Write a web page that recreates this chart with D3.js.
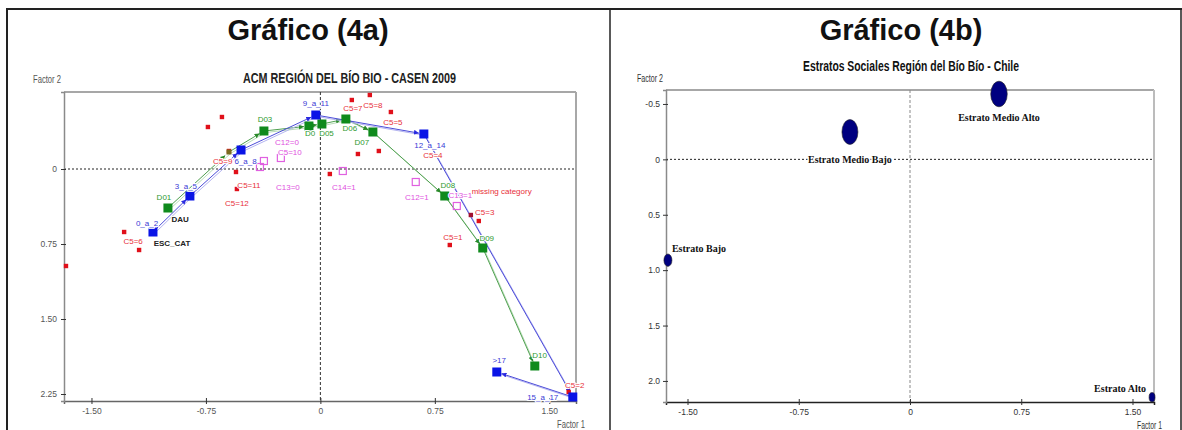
<!DOCTYPE html>
<html><head><meta charset="utf-8">
<script src="https://cdn.jsdelivr.net/npm/d3@7"></script>
<style>
body{margin:0;background:#fff}
svg{display:block}
.narrow{font-family:"Liberation Sans Narrow","Arial Narrow","Liberation Sans",sans-serif}
.halo{paint-order:stroke;stroke:#fff;stroke-width:2px;stroke-linejoin:round}
</style>
</head><body>
<svg id="c" width="1182" height="430"></svg>
<script>
// ---------- DATA ----------
const panelTitles = ["Gráfico (4a)", "Gráfico (4b)"];
const chartTitleA = "ACM REGIÓN DEL BÍO BIO - CASEN 2009";
const chartTitleB = "Estratos Sociales Región del Bío Bío - Chile";
const axisNames = ["Factor 1", "Factor 2"];

const xTicks = [-1.5, -0.75, 0, 0.75, 1.5];
const xTickLabels = ["-1.50", "-0.75", "0", "0.75", "1.50"];
const yTicksA = [0, 0.75, 1.5, 2.25];
const yTickLabelsA = ["0", "0.75", "1.50", "2.25"];
const yTicksB = [-0.5, 0, 0.5, 1, 1.5, 2];
const yTickLabelsB = ["-0.5", "0", "0.5", "1.0", "1.5", "2.0"];

// Escolaridad (ESC_CAT) – blue
const escCategories = ["0_a_2", "3_a_5", "6_a_8", "9_a_11", "12_a_14", "15_a_17", ">17"];
const escF1 = [-1.097, -0.855, -0.52, -0.03, 0.678, 1.654, 1.156];
const escF2 = [0.63, 0.27, -0.19, -0.54, -0.35, 2.28, 2.03];

// Deciles (DAU) – green
const decileCategories = ["D01", "D02", "D03", "D04", "D05", "D06", "D07", "D08", "D09", "D10"];
const decileF1 = [-0.999, -0.599, -0.37, -0.075, 0.01, 0.167, 0.344, 0.815, 1.064, 1.405];
const decileF2 = [0.39, -0.17, -0.38, -0.43, -0.45, -0.50, -0.37, 0.27, 0.79, 1.97];

// C5 categories – red
const c5F1 = [-1.286, -1.188, -1.667, -0.737, -0.645, -0.599, -0.553, -0.547, 0.206, 0.324, 0.462, 0.246, 0.383, 0.062, 0.986, 1.038, 0.848, 1.627];
const c5F2 = [0.63, 0.81, 0.97, -0.42, -0.52, -0.18, 0.03, 0.20, -0.69, -0.74, -0.57, -0.15, -0.18, 0.05, 0.46, 0.52, 0.76, 2.23];

// C12 / C13 / C14 categories – magenta
const cVarF1 = [-0.37, -0.396, -0.259, 0.147, 0.625, 0.894];
const cVarF2 = [-0.08, -0.02, -0.11, 0.02, 0.13, 0.37];

// Point labels of chart (4a)
const labelTexts = ["0_a_2", "3_a_5", "6_a_8", "9_a_11", "12_a_14", ">17", "15_a_17",
  "D01", "D03", "D0", "D05", "D06", "D07", "D08", "D09", "D10",
  "DAU", "ESC_CAT",
  "C5=6", "C5=9", "C5=11", "C5=12", "C5=7", "C5=8", "C5=5", "C5=4", "missing category", "C5=3", "C5=1", "C5=2",
  "C12=0", "C5=10", "C13=0", "C14=1", "C12=1", "C13=1"];
const labelF1 = [-1.136, -0.881, -0.49, -0.03, 0.717, 1.172, 1.457,
  -1.025, -0.363, -0.068, 0.04, 0.193, 0.272, 0.835, 1.09, 1.437,
  -0.919, -0.972,
  -1.227, -0.64, -0.468, -0.547, 0.213, 0.344, 0.475, 0.737, 1.142, 1.077, 0.868, 1.667,
  -0.219, -0.2, -0.213, 0.154, 0.632, 0.917];
const labelF2 = [0.57, 0.20, -0.05, -0.63, -0.21, 1.94, 2.31,
  0.31, -0.47, -0.33, -0.33, -0.38, -0.24, 0.19, 0.72, 1.89,
  0.53, 0.77,
  0.75, -0.05, 0.19, 0.37, -0.58, -0.61, -0.44, -0.11, 0.25, 0.46, 0.71, 2.19,
  -0.24, -0.14, 0.21, 0.21, 0.31, 0.29];
const labelKind = ["esc", "esc", "esc", "esc", "esc", "esc", "esc",
  "dau", "dau", "dau", "dau", "dau", "dau", "dau", "dau", "dau",
  "name", "name",
  "c5", "c5", "c5", "c5", "c5", "c5", "c5", "c5", "c5", "c5", "c5", "c5",
  "cvar", "cvar", "cvar", "cvar", "cvar", "cvar"];

// Chart (4b)
const strata = ["Estrato Bajo", "Estrato Medio Bajo", "Estrato Medio Alto", "Estrato Alto"];
const strataF1 = [-1.632, -0.405, 0.60, 1.632];
const strataF2 = [0.91, -0.247, -0.59, 2.147];
const strataWeight = [0.25, 1.0, 1.07, 0.14];

// ---------- DRAW ----------
const svg = d3.select("#c");
const kindColor = {esc: "#3a3ad6", dau: "#2f9a2f", name: "#222", c5: "#e8303a", cvar: "#e050e0"};

// frame
const frame = svg.append("g").attr("stroke", "#222").attr("stroke-width", 2);
frame.append("line").attr("x1", 6).attr("x2", 1182).attr("y1", 9).attr("y2", 9);
frame.append("line").attr("x1", 7).attr("x2", 7).attr("y1", 9).attr("y2", 430);
frame.append("line").attr("x1", 610).attr("x2", 610).attr("y1", 9).attr("y2", 430).attr("stroke-width", 1.5);
frame.append("line").attr("x1", 1181).attr("x2", 1181).attr("y1", 9).attr("y2", 430).attr("stroke-width", 1.5);

svg.selectAll("text.ptitle").data(panelTitles).join("text").attr("class", "ptitle")
  .attr("x", (d, i) => i === 0 ? 308 : 901).attr("y", 40).attr("text-anchor", "middle")
  .attr("font-family", "Liberation Sans, Arial, sans-serif").attr("font-weight", "bold")
  .attr("font-size", 29).attr("fill", "#111").text(d => d);

function drawAxes(g, x, y, yTicks, yLabels, o) {
  const [x0, x1] = x.range(), [y0, y1] = y.range();
  g.append("line").attr("x1", x0).attr("x2", x1).attr("y1", y0).attr("y2", y0).attr("stroke", "#8a8a8a").attr("stroke-width", 1.5);
  g.append("line").attr("x1", x1).attr("x2", x1).attr("y1", y0).attr("y2", y1).attr("stroke", o.rightColor).attr("stroke-width", 2);
  g.append("line").attr("x1", x0).attr("x2", x1).attr("y1", y(0)).attr("y2", y(0))
    .attr("stroke", "#222").attr("stroke-dasharray", "2,2").attr("stroke-width", 1);
  g.append("line").attr("x1", x(0)).attr("x2", x(0)).attr("y1", y0).attr("y2", y1)
    .attr("stroke", o.vzero).attr("stroke-dasharray", "3,2").attr("stroke-width", 1);
  const ax = g.append("g").attr("transform", `translate(0,${y1})`)
    .call(d3.axisBottom(x).tickValues(xTicks).tickFormat((d, i) => xTickLabels[i]).tickSizeOuter(0).tickSize(3).tickPadding(5));
  ax.select(".domain").attr("stroke", o.bottomColor).attr("stroke-width", 1.5);
  ax.selectAll(".tick line").attr("y1", -3).attr("y2", 3).attr("stroke", "#333");
  ax.selectAll(".tick text").attr("class", "narrow").attr("font-size", 8.5).attr("fill", o.tickColor).attr("dy", "0.9em").attr("y", 5);
  const ay = g.append("g").attr("transform", `translate(${x0},0)`)
    .call(d3.axisLeft(y).tickValues(yTicks).tickFormat((d, i) => yLabels[i]).tickSizeOuter(0).tickSize(3).tickPadding(o.ypad));
  ay.select(".domain").attr("stroke", "#8a8a8a").attr("stroke-width", 1.5);
  ay.selectAll(".tick line").attr("x1", -3).attr("x2", 2).attr("stroke", "#333");
  ay.selectAll(".tick text").attr("class", "narrow").attr("font-size", 8.5).attr("fill", o.tickColor);
  ax.selectAll("text").attr("font-family", null);
  ay.selectAll("text").attr("font-family", null);
}

// ===== Chart 4a =====
const xA = d3.scaleLinear().domain([-1.68, 1.675]).range([64, 576]);
const yA = d3.scaleLinear().domain([-0.77, 2.32]).range([92, 401]);
const gA = svg.append("g");
drawAxes(gA, xA, yA, yTicksA, yTickLabelsA, {rightColor: "#a8a8a8", bottomColor: "#666", vzero: "#333", tickColor: "#555", ypad: 4});

gA.append("text").attr("class", "narrow").attr("x", 243).attr("y", 83).attr("font-weight", "bold").attr("font-size", 14)
  .attr("textLength", 213).attr("lengthAdjust", "spacingAndGlyphs").attr("fill", "#222").text(chartTitleA);
gA.append("text").attr("class", "narrow").attr("x", 33).attr("y", 83).attr("font-size", 10)
  .attr("textLength", 28).attr("lengthAdjust", "spacingAndGlyphs").attr("fill", "#555").text(axisNames[1]);
gA.append("text").attr("class", "narrow").attr("x", 557).attr("y", 428).attr("font-size", 10)
  .attr("textLength", 28).attr("lengthAdjust", "spacingAndGlyphs").attr("fill", "#555").text(axisNames[0]);

const defs = svg.append("defs");
[["arrB", "#2a2ae0"], ["arrG", "#2a8a2a"]].forEach(([id, c]) => {
  defs.append("marker").attr("id", id).attr("viewBox", "0 0 10 10").attr("refX", 10).attr("refY", 5)
    .attr("markerWidth", 5).attr("markerHeight", 5).attr("orient", "auto")
    .append("path").attr("d", "M0,0L10,5L0,10Z").attr("fill", c);
});

function drawPath(g, F1, F2, color, light, marker) {
  const pts = F1.map((v, i) => [xA(v), yA(F2[i])]);
  const segs = d3.pairs(pts);
  g.selectAll(null).data(segs).join("line")
    .attr("x1", d => d[0][0] + 1.5).attr("y1", d => d[0][1] + 1.5)
    .attr("x2", d => d[1][0] + 1.5).attr("y2", d => d[1][1] + 1.5)
    .attr("stroke", light).attr("stroke-width", 1);
  g.selectAll(null).data(segs).join("line")
    .attr("x1", d => d[0][0]).attr("y1", d => d[0][1])
    .attr("x2", d => { const dx = d[1][0] - d[0][0], dy = d[1][1] - d[0][1], L = Math.hypot(dx, dy); return d[1][0] - dx / L * 5; })
    .attr("y2", d => { const dx = d[1][0] - d[0][0], dy = d[1][1] - d[0][1], L = Math.hypot(dx, dy); return d[1][1] - dy / L * 5; })
    .attr("stroke", color).attr("stroke-width", 1).attr("marker-end", `url(#${marker})`);
}
drawPath(gA, decileF1, decileF2, "#4fa04f", "#b9dcb9", "arrG");
drawPath(gA, escF1, escF2, "#4c4cd8", "#b4b4f0", "arrB");

gA.selectAll("rect.c5").data(c5F1).join("rect").attr("class", "c5")
  .attr("x", (d, i) => xA(d) - 2.2).attr("y", (d, i) => yA(c5F2[i]) - 2.2)
  .attr("width", 4.4).attr("height", 4.4).attr("fill", (d, i) => i === 14 ? "#a01030" : "#e0101a");

gA.selectAll("rect.cv").data(cVarF1).join("rect").attr("class", "cv")
  .attr("x", d => xA(d) - 3.5).attr("y", (d, i) => yA(cVarF2[i]) - 3.5)
  .attr("width", 7).attr("height", 7).attr("fill", "none").attr("stroke", "#e060e0").attr("stroke-width", 1.2);

gA.selectAll("rect.dec").data(decileF1).join("rect").attr("class", "dec")
  .attr("x", (d, i) => xA(d) - (i === 1 ? 2.5 : 4.5)).attr("y", (d, i) => yA(decileF2[i]) - (i === 1 ? 2.5 : 4.5))
  .attr("width", (d, i) => i === 1 ? 5 : 9).attr("height", (d, i) => i === 1 ? 5 : 9)
  .attr("fill", (d, i) => i === 1 ? "#7a6a20" : "#0f8a1c");

gA.selectAll("rect.esc").data(escF1).join("rect").attr("class", "esc")
  .attr("x", d => xA(d) - 4.5).attr("y", (d, i) => yA(escF2[i]) - 4.5)
  .attr("width", 9).attr("height", 9).attr("fill", "#0a14e6");

gA.selectAll("text.lbl").data(labelTexts).join("text").attr("class", "lbl narrow halo")
  .attr("x", (d, i) => d === "missing category" ? xA(labelF1[i]) - 23 : xA(labelF1[i]))
  .attr("y", (d, i) => yA(labelF2[i]))
  .attr("text-anchor", d => d === "missing category" ? "start" : "middle").attr("font-size", 8)
  .attr("font-weight", (d, i) => labelKind[i] === "name" ? "bold" : "normal")
  .attr("fill", (d, i) => kindColor[labelKind[i]]).text(d => d);

// ===== Chart 4b =====
const xB = d3.scaleLinear().domain([-1.645, 1.645]).range([666, 1154]);
const yB = d3.scaleLinear().domain([-0.626, 2.19]).range([90, 402]);
const gB = svg.append("g");
drawAxes(gB, xB, yB, yTicksB, yTickLabelsB, {rightColor: "#bcbcbc", bottomColor: "#222", vzero: "#888", tickColor: "#333", ypad: 3});

gB.append("text").attr("class", "narrow").attr("x", 803).attr("y", 71).attr("font-weight", "bold").attr("font-size", 14)
  .attr("textLength", 216).attr("lengthAdjust", "spacingAndGlyphs").attr("fill", "#111").text(chartTitleB);
gB.append("text").attr("class", "narrow").attr("x", 637).attr("y", 82).attr("font-size", 10)
  .attr("textLength", 26).attr("lengthAdjust", "spacingAndGlyphs").attr("fill", "#333").text(axisNames[1]);
gB.append("text").attr("class", "narrow").attr("x", 1137).attr("y", 429).attr("font-size", 10)
  .attr("textLength", 25).attr("lengthAdjust", "spacingAndGlyphs").attr("fill", "#333").text(axisNames[0]);

const rScale = d3.scaleSqrt().domain([0, 1]).range([0, 8]);
gB.selectAll("ellipse").data(strataF1).join("ellipse")
  .attr("cx", d => xB(d)).attr("cy", (d, i) => yB(strataF2[i]))
  .attr("rx", (d, i) => rScale(strataWeight[i])).attr("ry", (d, i) => rScale(strataWeight[i]) * 1.55)
  .attr("fill", "#000080").attr("stroke", "#222").attr("stroke-width", 0.6);

const lblDx = [4, 0, 0, -6], lblDy = [-8, 31, 27, -5], lblAnchor = ["start", "middle", "middle", "end"];
gB.selectAll("text.st").data(strata).join("text").attr("class", "st")
  .attr("x", (d, i) => xB(strataF1[i]) + lblDx[i]).attr("y", (d, i) => yB(strataF2[i]) + lblDy[i])
  .attr("text-anchor", (d, i) => lblAnchor[i])
  .attr("font-family", "Liberation Serif, serif").attr("font-weight", "bold").attr("font-size", 10)
  .attr("fill", "#111").style("paint-order", "stroke").attr("stroke", "#fff").attr("stroke-width", 3)
  .text(d => d);
</script>
</body></html>
